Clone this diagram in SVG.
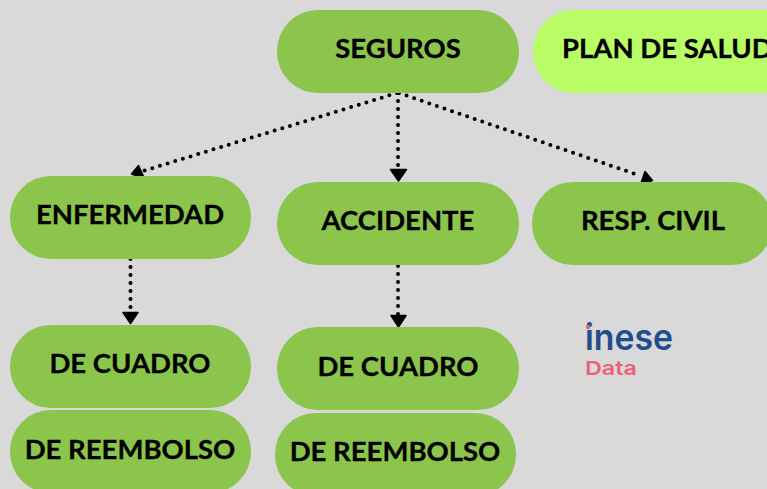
<svg xmlns="http://www.w3.org/2000/svg" width="767" height="489" viewBox="0 0 767 489">
<style>
.n{fill:#8bc54b}
.t{font-family:Lato,"Open Sans","Liberation Sans",sans-serif;font-size:27.5px;font-weight:700;fill:#000;stroke:#000;stroke-width:.3;text-anchor:middle}
.c{fill:none;stroke:#000;stroke-width:4;stroke-dasharray:0 8;stroke-linecap:round}
.h{fill:#000;stroke:#000;stroke-width:1.5;stroke-linejoin:round}
</style>
<rect width="767" height="489" fill="#d9d9d9"/>
<g id="connectors">
<path class="c" d="M397 93L143 171"/>
<path class="c" d="M398 93V170"/>
<path class="c" d="M399 93L641 176"/>
<path class="c" d="M130.500 259V313"/>
<path class="c" d="M398 266V316"/>
<polygon class="h" points="131.500,174 138.500,165.500 144.500,178.500"/>
<polygon class="h" points="398.500,181 390.500,169.500 406.500,169.500"/>
<polygon class="h" points="640.500,184.500 652.500,180.500 645,171.500"/>
<polygon class="h" points="130.500,323.500 123,312.500 138,312.500"/>
<polygon class="h" points="398.500,327 391,315.500 406,315.500"/>
</g>
<g id="seguros"><rect class="n" x="277" y="10" width="242" height="83" rx="41"/><text class="t" x="398" y="58">SEGUROS</text></g>
<g id="plan"><rect x="533" y="10" width="270" height="83" rx="41" fill="#b8fd66"/><text class="t" x="562" y="58" style="text-anchor:start">PLAN DE SALUD</text></g>
<g id="enfermedad"><rect class="n" x="10" y="176" width="241" height="83" rx="41"/><text class="t" x="130" y="224">ENFERMEDAD</text></g>
<g id="accidente"><rect class="n" x="277" y="182" width="242" height="83" rx="41"/><text class="t" x="398" y="230">ACCIDENTE</text></g>
<g id="resp"><rect class="n" x="532" y="182" width="241" height="83" rx="41"/><text class="t" x="653" y="230">RESP. CIVIL</text></g>
<g id="cuadro1"><rect class="n" x="10" y="325" width="241" height="83" rx="41"/><text class="t" x="130" y="373">DE CUADRO</text></g>
<g id="reembolso1"><rect class="n" x="10" y="410" width="241" height="83" rx="41"/><text class="t" x="130" y="459">DE REEMBOLSO</text></g>
<g id="cuadro2"><rect class="n" x="277" y="327" width="242" height="83" rx="41"/><text class="t" x="398" y="376">DE CUADRO</text></g>
<g id="reembolso2"><rect class="n" x="275" y="413" width="241" height="83" rx="41"/><text class="t" x="395" y="461">DE REEMBOLSO</text></g>
<g id="logo"><text x="585" y="350" font-family="Inter,'Liberation Sans',sans-serif" font-size="36" font-weight="600" fill="#1f4e8c" textLength="88" lengthAdjust="spacingAndGlyphs">inese</text><circle cx="588" cy="327" r="2.200" fill="#ec5f77"/><text x="585" y="375" font-family="Inter,'Liberation Sans',sans-serif" font-size="19" font-weight="600" fill="#ec5f77" textLength="52" lengthAdjust="spacingAndGlyphs">Data</text></g>
</svg>
